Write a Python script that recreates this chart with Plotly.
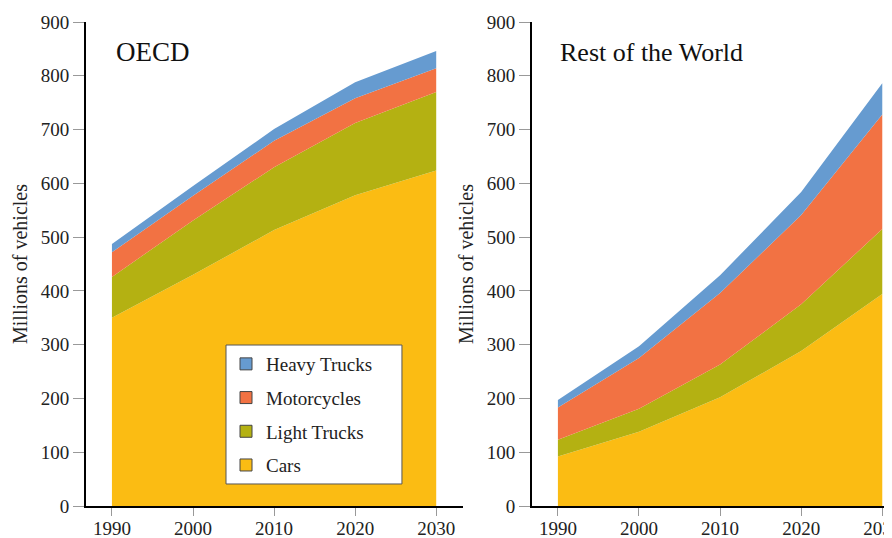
import plotly.graph_objects as go

years = [1990, 2000, 2010, 2020, 2030]
series_names = ["Cars", "Light Trucks", "Motorcycles", "Heavy Trucks"]
colors = ["#FBBC13", "#B4B112", "#F27243", "#669BD0"]
legend_rank = [4, 3, 2, 1]

oecd_cars = [350, 430, 513, 578, 624]
oecd_light = [76, 101, 117, 134, 146]
oecd_moto = [46, 46, 49, 46, 44]
oecd_heavy = [15, 18, 22, 30, 32]

row_cars = [92, 138, 202, 288, 394]
row_light = [31, 43, 61, 87, 121]
row_moto = [60, 94, 133, 166, 213]
row_heavy = [14, 22, 33, 43, 58]

y_ticks = [0, 100, 200, 300, 400, 500, 600, 700, 800, 900]
panel_titles = ["OECD", "Rest of the World"]
y_title = "Millions of vehicles"

FONT = "Liberation Serif"

fig = go.Figure()
panels = [
    ([oecd_cars, oecd_light, oecd_moto, oecd_heavy], "x", "y", "one"),
    ([row_cars, row_light, row_moto, row_heavy], "x2", "y2", "two"),
]
for data, xa, ya, sg in panels:
    for name, vals, col in zip(series_names, data, colors):
        fig.add_trace(go.Scatter(
            x=years, y=vals, name=name, stackgroup=sg, mode="lines",
            line=dict(width=0, color=col), fillcolor=col,
            xaxis=xa, yaxis=ya, showlegend=False,
            hoverinfo="skip",
        ))

# legend entries (square swatches)
for name, col, rk in zip(series_names, colors, legend_rank):
    fig.add_trace(go.Bar(
        x=[None], y=[None], name=name, marker=dict(color=col, line=dict(color="#444444", width=1)),
        legendrank=rk, legendgroup=name, showlegend=True, xaxis="x", yaxis="y",
    ))

axis_common = dict(
    showline=True, linecolor="black", linewidth=2, showgrid=False, zeroline=False,
    ticks="outside", tickwidth=1, tickcolor="#999999", automargin=False,
    tickfont=dict(family=FONT, size=19, color="#222222"),
)

fig.update_layout(
    width=892, height=538,
    margin=dict(l=78, r=8, t=14, b=40),
    plot_bgcolor="white", paper_bgcolor="white",
    font=dict(family=FONT, color="#222222"),
    showlegend=True,
    xaxis=dict(domain=[0, 0.4677], range=[1986.8, 2033.3], tickvals=years, anchor="y",
               ticklen=8, ticklabelstandoff=-4, ticklabeloverflow="allow", **axis_common),
    xaxis2=dict(domain=[0.5533, 1], range=[1986.8, 2031.2], tickvals=years, anchor="y2",
                ticklen=8, ticklabelstandoff=-4, ticklabeloverflow="allow", **axis_common),
    yaxis=dict(range=[0, 900], tickvals=y_ticks, anchor="x", ticklen=11,
               title=dict(text=y_title, font=dict(family=FONT, size=20), standoff=8), **axis_common),
    yaxis2=dict(range=[0, 900], tickvals=y_ticks, anchor="x2", ticklen=11,
                title=dict(text=y_title, font=dict(family=FONT, size=20), standoff=8), **axis_common),
    legend=dict(
        x=0.1737, y=0.3326, xanchor="left", yanchor="top",
        traceorder="grouped", tracegroupgap=6,
        bgcolor="rgba(0,0,0,0)", borderwidth=0,
        font=dict(family=FONT, size=19, color="#222222"),
    ),
    shapes=[
        dict(type="rect", xref="paper", yref="paper", x0=0.1737, x1=0.392, y0=0.0455, y1=0.3326,
             fillcolor="white", line=dict(color="#555555", width=1), layer="above"),
    ],
    annotations=[
        dict(text=panel_titles[0], xref="x domain", yref="y domain", x=0.074, y=0.938,
             xanchor="left", yanchor="middle", showarrow=False,
             font=dict(family=FONT, size=27, color="#111111")),
        dict(text=panel_titles[1], xref="x2 domain", yref="y2 domain", x=0.072, y=0.938,
             xanchor="left", yanchor="middle", showarrow=False,
             font=dict(family=FONT, size=26, color="#111111")),
    ],
)

fig.write_html("out.html")
